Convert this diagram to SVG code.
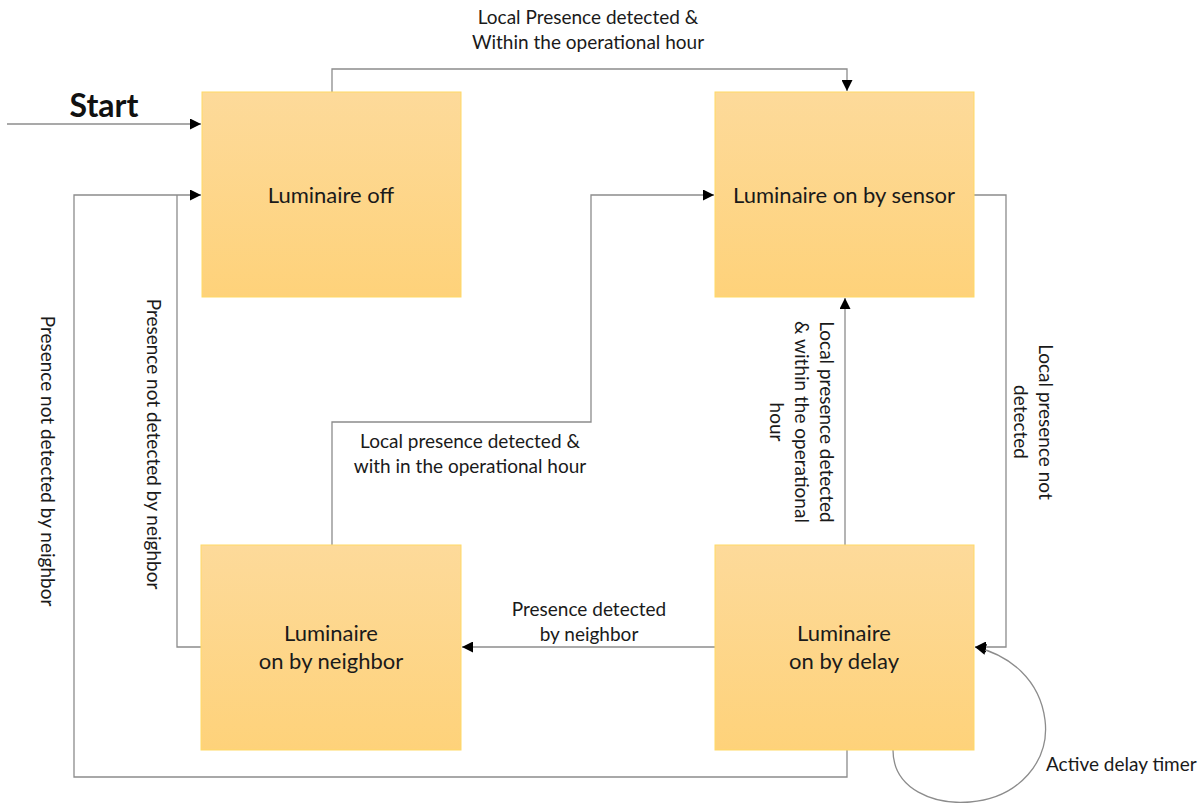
<svg xmlns="http://www.w3.org/2000/svg" width="1203" height="803" viewBox="0 0 1203 803">
<style>
.box{fill:url(#g);stroke:#FFD966;stroke-width:1}
.lbl{font-family:Lato,"Open Sans",sans-serif;font-size:22px;fill:#1a1a1a;text-anchor:middle}
.t{font-family:Lato,"Open Sans",sans-serif;font-size:19px;fill:#1a1a1a;text-anchor:middle}
.c{fill:none;stroke:#8c8c8c;stroke-width:1.3}
.a{marker-end:url(#ar)}
</style>
<defs>
<linearGradient id="g" x1="0" y1="0" x2="0" y2="1">
<stop offset="0" stop-color="#FDDA9A"/>
<stop offset="1" stop-color="#FED27A"/>
</linearGradient>
<marker id="ar" viewBox="0 0 10 10" refX="10" refY="5" markerWidth="11" markerHeight="11" markerUnits="userSpaceOnUse" orient="auto">
<path d="M0,0 L10,5 L0,10 Z" fill="#000"/>
</marker>
</defs>
<rect width="1203" height="803" fill="#fff"/>
<g id="connectors">
<path class="c a" d="M7,124 H201"/>
<path class="c a" d="M332,92 V69 H847 V91"/>
<path class="c a" d="M847,750 V777 H74 V195 H201"/>
<path class="c" d="M201,647 H177 V195"/>
<path class="c a" d="M332,545 V422 H591 V195 H714"/>
<path class="c a" d="M845,545 V298"/>
<path class="c a" d="M974,195 H1006 V647 H975"/>
<path class="c a" d="M715,647 H462"/>
<path class="c a" d="M893,750 C893,790 935,805 970,802 C1020,798 1050,760 1045,720 C1040,680 1010,655 975,647"/>
</g>
<g id="start-label"><text x="104" y="117" font-family="Lato,'Open Sans',sans-serif" font-size="32" font-weight="bold" fill="#111" text-anchor="middle">Start</text></g>
<g id="n-off"><rect class="box" x="202" y="92" width="259" height="205"/><text class="lbl" x="331" y="203">Luminaire off</text></g>
<g id="n-sensor"><rect class="box" x="715" y="92" width="259" height="205"/><text class="lbl" x="844" y="203">Luminaire on by sensor</text></g>
<g id="n-neighbor"><rect class="box" x="201" y="545" width="260" height="205"/><text class="lbl" x="331" y="641">Luminaire</text><text class="lbl" x="331" y="669">on by neighbor</text></g>
<g id="n-delay"><rect class="box" x="715" y="545" width="259" height="205"/><text class="lbl" x="844" y="641">Luminaire</text><text class="lbl" x="844" y="669">on by delay</text></g>
<g id="labels">
<text class="t" x="588" y="24">Local Presence detected &amp;</text>
<text class="t" x="588" y="49">Within the operational hour</text>
<text class="t" x="470" y="448">Local presence detected &amp;</text>
<text class="t" x="470" y="473">with in the operational hour</text>
<text class="t" x="589" y="616">Presence detected</text>
<text class="t" x="589" y="641">by neighbor</text>
<text class="t" x="1046" y="771" style="text-anchor:start">Active delay timer</text>
<text class="t" transform="translate(41,461) rotate(90)">Presence not detected by neighbor</text>
<text class="t" transform="translate(147,444) rotate(90)">Presence not detected by neighbor</text>
<text class="t" transform="translate(820,422) rotate(90)">Local presence detected</text>
<text class="t" transform="translate(795,422) rotate(90)">&amp; within the operational</text>
<text class="t" transform="translate(770,422) rotate(90)">hour</text>
<text class="t" transform="translate(1039,422) rotate(90)">Local presence not</text>
<text class="t" transform="translate(1014,422) rotate(90)">detected</text>
</g>
</svg>
